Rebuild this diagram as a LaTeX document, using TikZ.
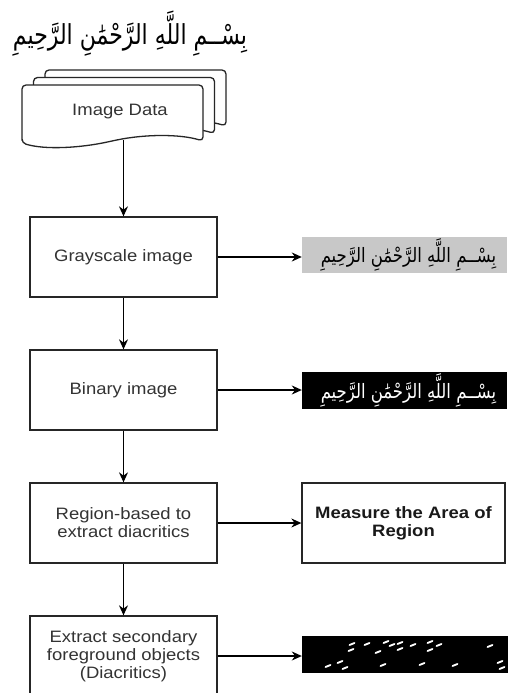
\documentclass[tikz,border=0pt]{standalone}
\usepackage{fontspec}
\usepackage{graphicx}
\usetikzlibrary{arrows.meta}
\TeXXeTstate=1
\newfontfamily\arabicfont[Script=Arabic]{DejaVu Sans}
\newfontfamily\boxfont[FakeStretch=1.12]{Liberation Sans}
\newcommand\bxf{\boxfont\fontsize{16.5pt}{18pt}\selectfont}
\newcommand\basmala{\beginR بِسْــمِ اللَّهِ الرَّحْمَٰنِ الرَّحِيمِ\endR}
\definecolor{txtgray}{HTML}{333333}
\definecolor{imggray}{RGB}{200,200,200}
\tikzset{
  proc/.style={draw=black!85, line width=1.3, fill=white, minimum width=187, minimum height=80,
    align=center, font=\bxf, text=txtgray, inner sep=2},
  docst/.style={draw=black!85, line width=1.3, fill=white, rounded corners=4},
  arr/.style={-{Stealth[length=10pt,width=9pt]}, line width=1.2, draw=black},
  imgnode/.style={minimum width=205, minimum height=36, inner sep=0},
  diamark/.style={draw=white, line width=1.8, line cap=round}
}
\begin{document}
\begin{tikzpicture}[x=1pt,y=-1pt]
\useasboundingbox[fill=white] (0,0) rectangle (508,693);
% title
\node (title) at (130,34) {\arabicfont\fontsize{22pt}{26pt}\selectfont\scalebox{1}[1.25]{\basmala}};
% multi-document
\foreach \dx/\dy in {23/-15, 11.5/-7.5, 0/0}{
  \draw[docst, shift={(\dx,\dy)}] (22,143) -- (22,85) -- (203,85) -- (203,141)
    .. controls (180,134) and (145,134) .. (112,141)
    .. controls (80,148) and (45,150) .. (22,143) -- cycle;
}
\node[font=\bxf, text=txtgray] (data) at (120,112) {Image Data};
\coordinate (datab) at (123.5,140);
% process boxes
\node[proc] (gray) at (123.5,257) {Grayscale image};
\node[proc] (bin) at (123.5,390) {Binary image};
\node[proc] (region) at (123.5,523) {Region-based to\\extract diacritics};
\node[proc] (extract) at (123.5,656) {Extract secondary\\foreground objects\\(Diacritics)};
\node[proc, minimum width=203, font=\bxf\bfseries, text=black!90] (measure) at (403.5,523) {Measure the Area of\\Region};
% images
\node[imgnode, fill=imggray, text=black] (gimg) at (404.5,255) {\hspace*{8pt}\arabicfont\fontsize{16.5pt}{20pt}\selectfont\scalebox{1}[1.2]{\basmala}};
\node[imgnode, fill=black, text=white, minimum height=37] (bimg) at (404.5,390.5) {\hspace*{8pt}\arabicfont\fontsize{16.5pt}{20pt}\selectfont\scalebox{1}[1.2]{\basmala}};
\node[imgnode, fill=black, minimum width=206, minimum height=37] (dimg) at (405,654.5) {};
\foreach \x/\y in {352/644, 351/650, 367/644, 378/652, 386/642, 392/645, 400/643, 400/649,
  413/645, 430/642, 430/650, 439/645, 490/646, 328/666, 340/662, 345/668, 383/665,
  422/664, 455/665, 500/662, 502/668}{
  \draw[diamark] (\x-2.5,\y+1) -- (\x+2.5,\y-1);
}
% connectors
\draw[arr] (datab) -- (gray);
\draw[arr] (gray) -- (bin);
\draw[arr] (bin) -- (region);
\draw[arr] (region) -- (extract);
\draw[arr] (gray.east) -- (gray.east -| gimg.west);
\draw[arr] (bin.east) -- (bin.east -| bimg.west);
\draw[arr] (region) -- (measure);
\draw[arr] (extract.east) -- (extract.east -| dimg.west);
\end{tikzpicture}
\end{document}
